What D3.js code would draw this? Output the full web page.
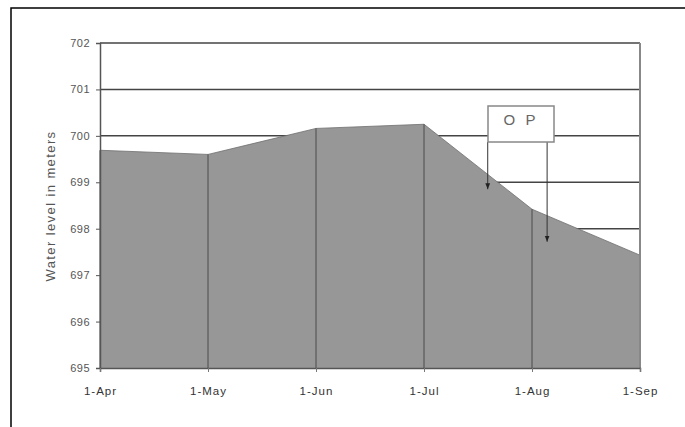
<!DOCTYPE html>
<html lang="en">
<head>
<meta charset="UTF-8" />
<title>Water level</title>
<script src="https://d3js.org/d3.v7.min.js"></script>
<style>
  body { margin: 0; padding: 0; background: #fff; }
  text { font-family: "Liberation Sans", Arial, sans-serif; }
</style>
</head>
<body>
<svg width="685" height="427"></svg>
<script>
const months = ["1-Apr", "1-May", "1-Jun", "1-Jul", "1-Aug", "1-Sep"];
const levels = [699.69, 699.6, 700.16, 700.25, 698.42, 697.43];
const yTicks = [695, 696, 697, 698, 699, 700, 701, 702];
const noteText = "O P";
const noteTargets = [["1-Jul", "1-Aug", 0.59], ["1-Aug", "1-Sep", 0.14]]; // arrow x as fraction between months

const width = 685, height = 427;
const margin = { top: 43, left: 100, right: 45, bottom: 59 };

const svg = d3.select("svg");

// outer frame (runs off the page on right/bottom)
svg.append("rect")
  .attr("x", 11).attr("y", 8)
  .attr("width", 700).attr("height", 450)
  .attr("fill", "none").attr("stroke", "#000").attr("stroke-width", 1.5);

const x = d3.scalePoint()
  .domain(months)
  .range([margin.left, width - margin.right]);

const y = d3.scaleLinear()
  .domain([695, 702])
  .range([height - margin.bottom, margin.top]);

// horizontal gridlines
svg.append("g")
  .selectAll("line")
  .data(yTicks)
  .enter()
  .append("line")
  .attr("x1", x.range()[0]).attr("x2", x.range()[1])
  .attr("y1", d => y(d)).attr("y2", d => y(d))
  .attr("stroke", "#444").attr("stroke-width", 1.5);

// area
const area = d3.area()
  .x((d, i) => x(months[i]))
  .y0(y(695))
  .y1(d => y(d));

svg.append("path")
  .datum(levels)
  .attr("d", area)
  .attr("fill", "#979797")
  .attr("stroke", "none");

// top edge of the area
svg.append("path")
  .datum(levels)
  .attr("d", d3.line().x((d, i) => x(months[i])).y(d => y(d)))
  .attr("fill", "none")
  .attr("stroke", "#6f6f6f")
  .attr("stroke-width", 0.8);

// drop lines
svg.append("g")
  .selectAll("line")
  .data(levels)
  .enter()
  .append("line")
  .attr("x1", (d, i) => x(months[i])).attr("x2", (d, i) => x(months[i]))
  .attr("y1", d => y(d)).attr("y2", y(695))
  .attr("stroke", "#4a4a4a").attr("stroke-width", 1);

// right border of plot
svg.append("line")
  .attr("x1", x.range()[1]).attr("x2", x.range()[1])
  .attr("y1", y(702)).attr("y2", y(695))
  .attr("stroke", "#888").attr("stroke-width", 2);

// y axis
const yAxis = svg.append("g")
  .attr("transform", `translate(${margin.left},0)`)
  .call(d3.axisLeft(y).tickValues(yTicks).tickSize(4).tickPadding(6).tickFormat(d3.format("d")));
yAxis.select(".domain").attr("stroke", "#555").attr("stroke-width", 1.5);
yAxis.selectAll(".tick line").attr("stroke", "#555");
yAxis.selectAll("text").attr("fill", "#555").style("font-size", "11px")
  .style("letter-spacing", "0.5px")
  .style("font-family", "'Liberation Sans', Arial, sans-serif");

// x axis
const xAxis = svg.append("g")
  .attr("transform", `translate(0,${y(695)})`)
  .call(d3.axisBottom(x).tickSize(4).tickPadding(15));
xAxis.select(".domain").attr("stroke", "#555").attr("stroke-width", 1.5);
xAxis.selectAll(".tick line").attr("stroke", "#777");
xAxis.selectAll("text").attr("fill", "#333").style("font-size", "11.5px")
  .style("letter-spacing", "1px")
  .style("font-family", "'Liberation Sans', Arial, sans-serif");

// y axis title
svg.append("text")
  .attr("transform", `translate(55,206) rotate(-90)`)
  .attr("text-anchor", "middle")
  .attr("fill", "#555")
  .style("font-size", "13px")
  .style("letter-spacing", "1.4px")
  .text("Water level in meters");

// annotation box with arrows
const defs = svg.append("defs");
defs.append("marker")
  .attr("id", "arrow")
  .attr("viewBox", "0 0 10 10")
  .attr("refX", 10).attr("refY", 5)
  .attr("markerWidth", 6).attr("markerHeight", 6)
  .attr("orient", "auto")
  .append("path")
  .attr("d", "M0,1 L10,5 L0,9 z")
  .attr("fill", "#222");

const boxX = 488, boxY = 106, boxW = 66, boxH = 36;
const arrowEnds = [y(698.85), y(697.72)];
noteTargets.forEach((t, i) => {
  const ax = x(t[0]) + (x(t[1]) - x(t[0])) * t[2];
  svg.append("line")
    .attr("x1", ax).attr("x2", ax)
    .attr("y1", boxY + boxH).attr("y2", arrowEnds[i])
    .attr("stroke", "#333").attr("stroke-width", 1)
    .attr("marker-end", "url(#arrow)");
});

svg.append("rect")
  .attr("x", boxX).attr("y", boxY)
  .attr("width", boxW).attr("height", boxH)
  .attr("fill", "#fff")
  .attr("stroke", "#888").attr("stroke-width", 1.5);

svg.append("text")
  .attr("x", boxX + boxW / 2).attr("y", boxY + 19)
  .attr("text-anchor", "middle")
  .attr("fill", "#666")
  .style("font-size", "15px")
  .style("letter-spacing", "3px")
  .text(noteText);
</script>
</body>
</html>
